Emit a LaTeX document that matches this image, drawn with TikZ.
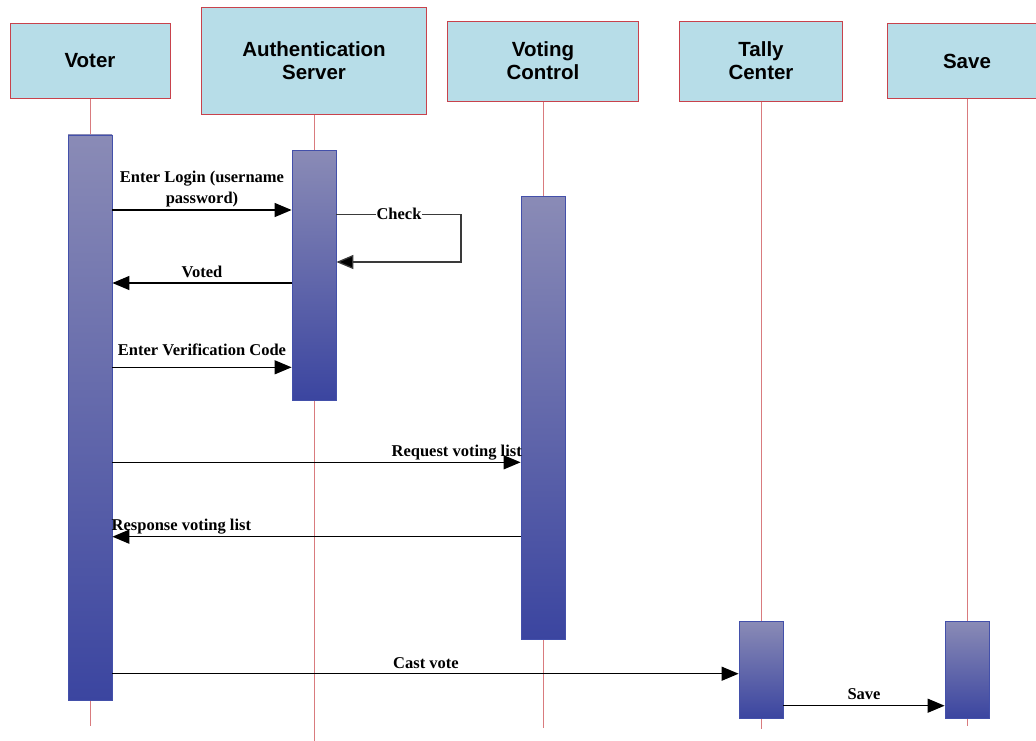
\documentclass[tikz,border=0pt]{standalone}
\usepackage{fontspec}
\setmainfont{Liberation Serif}
\newfontfamily\headfont{Liberation Sans}
\usetikzlibrary{arrows.meta}

\definecolor{headfill}{HTML}{B7DDE8}
\definecolor{headline}{HTML}{C8424C}
\definecolor{lifecol}{HTML}{D97B7E}
\definecolor{bartop}{HTML}{8A8BB6}
\definecolor{barbot}{HTML}{3B45A0}
\definecolor{barline}{HTML}{4350AA}
\definecolor{msgcol}{HTML}{000000}
\definecolor{loopcol}{HTML}{3A3A3A}

\begin{document}
\begin{tikzpicture}[x=1pt,y=-1pt,
  head/.style={draw=headline, line width=1pt, fill=headfill, inner sep=0pt,
    align=center, font=\headfont\bfseries\fontsize{20.5}{23}\selectfont},
  life/.style={draw=lifecol, line width=1pt},
  actbar/.style={draw=barline, line width=0.8pt, top color=bartop,
    bottom color=barbot, minimum width=44pt, inner sep=0pt, anchor=north},
  msg/.style={draw=msgcol, line width=1.3pt,
    -{Triangle[length=17pt,width=14pt,fill=black]}},
  selfmsg/.style={msg, draw=loopcol},
  lbl/.style={font=\bfseries\fontsize{16.5}{21}\selectfont, inner sep=0pt,
    anchor=base, align=center}]

\useasboundingbox (0,0) rectangle (1036,740);

% participants
\node[head, minimum width=160pt, minimum height=75.5pt] (voter) at (90,61) {Voter};
\node[head, minimum width=225.5pt, minimum height=107.5pt] (auth) at (314,61) {Authentication\\Server};
\node[head, minimum width=191.5pt, minimum height=80pt] (vctrl) at (543,61) {Voting\\Control};
\node[head, minimum width=163.5pt, minimum height=80pt] (tally) at (761,61) {Tally\\Center};
\node[head, minimum width=160pt, minimum height=75.5pt] (save) at (967,61) {Save};

% lifeline ends
\coordinate (voterEnd) at (90,726);
\coordinate (authEnd) at (314,741);
\coordinate (vctrlEnd) at (543,728);
\coordinate (tallyEnd) at (761,728.5);
\coordinate (saveEnd) at (967,726);

\draw[life] (voter) -- (voterEnd);
\draw[life] (auth) -- (authEnd);
\draw[life] (vctrl) -- (vctrlEnd);
\draw[life] (tally) -- (tallyEnd);
\draw[life] (save) -- (saveEnd);

% activation bars
\node[actbar, minimum height=565.5pt] (voterBar) at (90,134.5) {};
\node[actbar, minimum height=249.5pt] (authBar) at (314,150) {};
\node[actbar, minimum height=442.5pt] (vctrlBar) at (543,196) {};
\node[actbar, minimum height=97pt] (tallyBar) at (761,620.7) {};
\node[actbar, minimum height=97pt] (saveBar) at (967,620.7) {};

% login
\draw[msg] (voterBar.east |- 0,210) -- (authBar.west |- 0,210);
\node[lbl] (loginLbl) at (202,203.5) {Enter Login (username\\password)};

% check loop
\coordinate (loopTop) at (461,214.5);
\coordinate (loopBot) at (461,262);
\draw[selfmsg] (authBar.east |- loopTop) -- (loopTop) -- (loopBot) -- (authBar.east |- loopBot);
\node[lbl, fill=white, inner xsep=0.5pt, inner ysep=0pt] (checkLbl) at (399,219) {Check};

% voted
\draw[msg] (authBar.west |- 0,283) -- (voterBar.east |- 0,283);
\node[lbl] (votedLbl) at (202,277.3) {Voted};

% verification code
\draw[msg] (voterBar.east |- 0,367.3) -- (authBar.west |- 0,367.3);
\node[lbl] (codeLbl) at (202,355.3) {Enter Verification Code};

% voting list request / response
\draw[msg] (voterBar.east |- 0,462.3) -- (vctrlBar.west |- 0,462.3);
\node[lbl, anchor=base east] (reqLbl) at (522,456.7) {Request voting list};
\draw[msg] (vctrlBar.west |- 0,536.7) -- (voterBar.east |- 0,536.7);
\node[lbl, anchor=base west] (respLbl) at (111.5,530.7) {Response voting list};

% cast vote
\draw[msg] (voterBar.east |- 0,673.7) -- (tallyBar.west |- 0,673.7);
\node[lbl] (castLbl) at (426,668.3) {Cast vote};

% save
\draw[msg] (tallyBar.east |- 0,705.7) -- (saveBar.west |- 0,705.7);
\node[lbl] (saveLbl) at (864,699.8) {Save};

\end{tikzpicture}
\end{document}
